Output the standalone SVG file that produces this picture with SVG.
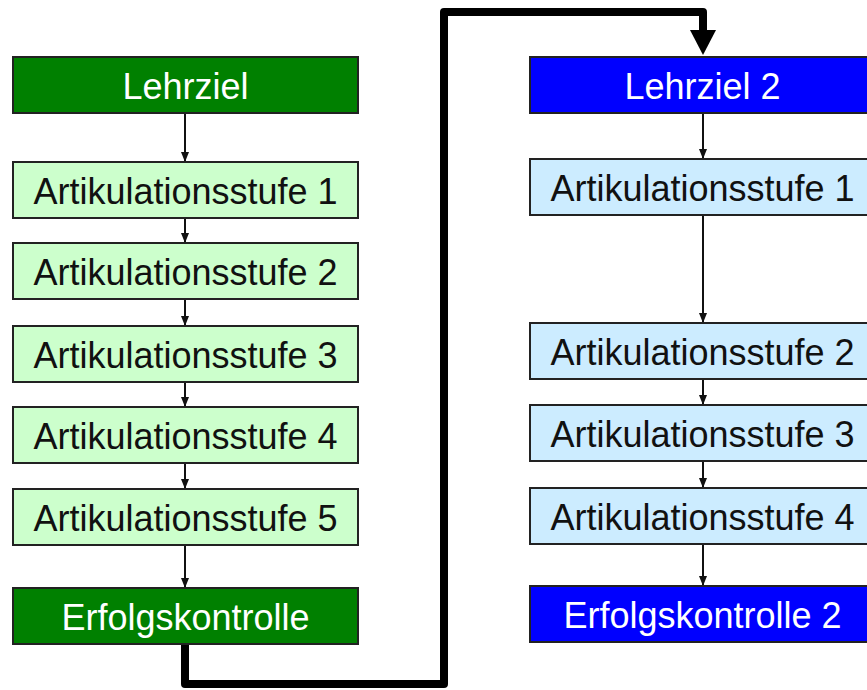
<svg xmlns="http://www.w3.org/2000/svg" width="867" height="690" viewBox="0 0 867 690">
<defs>
<style>
.box{stroke:#222;stroke-width:2}
.dg{fill:#008000}
.lg{fill:#ccffcc}
.db{fill:#0000ff}
.lb{fill:#ccecff}
text{font-family:"Liberation Sans",Arial,sans-serif;font-size:36px;text-anchor:middle}
.w{fill:#ffffff}
.k{fill:#111111}
.c{stroke:#111;stroke-width:2;fill:none}
.thick{stroke:#000;stroke-width:8;fill:none;stroke-linejoin:round}
</style>
<marker id="ah" markerUnits="userSpaceOnUse" markerWidth="10" markerHeight="8" refX="10" refY="4" orient="auto">
<path d="M0,0 L10,4 L0,8 Z" fill="#111"/>
</marker>
</defs>
<rect width="867" height="690" fill="#ffffff"/>
<g id="connectors">
<path class="c" d="M185,113 V162" marker-end="url(#ah)"/>
<path class="c" d="M185,218 V243" marker-end="url(#ah)"/>
<path class="c" d="M185,299 V326" marker-end="url(#ah)"/>
<path class="c" d="M185,382 V407" marker-end="url(#ah)"/>
<path class="c" d="M185,463 V489" marker-end="url(#ah)"/>
<path class="c" d="M185,545 V588" marker-end="url(#ah)"/>
<path class="c" d="M703,113 V159" marker-end="url(#ah)"/>
<path class="c" d="M703,215 V323" marker-end="url(#ah)"/>
<path class="c" d="M703,379 V405" marker-end="url(#ah)"/>
<path class="c" d="M703,461 V488" marker-end="url(#ah)"/>
<path class="c" d="M703,544 V586" marker-end="url(#ah)"/>
<path class="thick" d="M185,644 V684 H444 V12 H703 V32"/>
<path d="M690,30 L716,30 L703,55 Z" fill="#000"/>
</g>
<g id="lehrziel"><rect class="box dg" x="13" y="57" width="345" height="56"/><text class="w" x="185.5" y="99">Lehrziel</text></g>
<g id="a1"><rect class="box lg" x="13" y="162" width="345" height="56"/><text class="k" x="185.5" y="204">Artikulationsstufe 1</text></g>
<g id="a2"><rect class="box lg" x="13" y="243" width="345" height="56"/><text class="k" x="185.5" y="285">Artikulationsstufe 2</text></g>
<g id="a3"><rect class="box lg" x="13" y="326" width="345" height="56"/><text class="k" x="185.5" y="368">Artikulationsstufe 3</text></g>
<g id="a4"><rect class="box lg" x="13" y="407" width="345" height="56"/><text class="k" x="185.5" y="449">Artikulationsstufe 4</text></g>
<g id="a5"><rect class="box lg" x="13" y="489" width="345" height="56"/><text class="k" x="185.5" y="531">Artikulationsstufe 5</text></g>
<g id="erfolg"><rect class="box dg" x="13" y="588" width="345" height="56"/><text class="w" x="185.5" y="630">Erfolgskontrolle</text></g>
<g id="lehrziel2"><rect class="box db" x="530" y="57" width="345" height="56"/><text class="w" x="702.5" y="99">Lehrziel 2</text></g>
<g id="b1"><rect class="box lb" x="530" y="159" width="345" height="56"/><text class="k" x="702.5" y="201">Artikulationsstufe 1</text></g>
<g id="b2"><rect class="box lb" x="530" y="323" width="345" height="56"/><text class="k" x="702.5" y="365">Artikulationsstufe 2</text></g>
<g id="b3"><rect class="box lb" x="530" y="405" width="345" height="56"/><text class="k" x="702.5" y="447">Artikulationsstufe 3</text></g>
<g id="b4"><rect class="box lb" x="530" y="488" width="345" height="56"/><text class="k" x="702.5" y="530">Artikulationsstufe 4</text></g>
<g id="erfolg2"><rect class="box db" x="530" y="586" width="345" height="56"/><text class="w" x="702.5" y="628">Erfolgskontrolle 2</text></g>
</svg>
